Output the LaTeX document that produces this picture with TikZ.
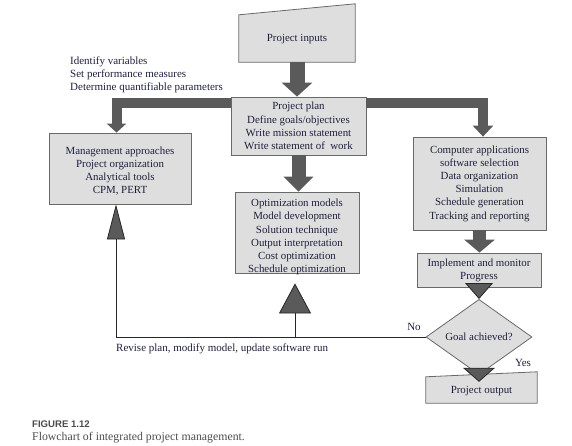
\documentclass[tikz,border=0pt]{standalone}
\usepackage{fontspec}
\setmainfont{Liberation Serif}
\newfontfamily\capsans{Liberation Sans}
\usetikzlibrary{arrows.meta,shapes.geometric,calc}
\definecolor{boxfill}{RGB}{222,222,222}
\definecolor{boxline}{RGB}{105,105,105}
\definecolor{fatgray}{RGB}{90,90,90}
\definecolor{txt}{RGB}{30,32,60}
\definecolor{capgray}{RGB}{75,75,75}
\begin{document}
\begin{tikzpicture}[x=1pt,y=-1pt,
  box/.style={draw=boxline, fill=boxfill, line width=0.8pt, align=center, inner sep=0pt, text=txt, font=\fontsize{10.9}{13.2}\selectfont},
  plainbox/.style={align=center, inner sep=0pt, text=txt, font=\fontsize{10.9}{13.2}\selectfont},
  shapeline/.style={draw=boxline, fill=boxfill, line width=0.8pt},
  fat/.style={draw=fatgray, line join=miter, line cap=butt},
  thinline/.style={draw=black!85, line width=0.8pt},
  lbl/.style={inner sep=0pt, text=txt, font=\fontsize{11}{13}\selectfont}
]
\useasboundingbox (0,0) rectangle (572,446);

% manual-input shapes
\node[plainbox, minimum width=116pt, minimum height=47pt] (inp) at (297,38.5) {};
\draw[shapeline] (inp.south west) -- (inp.south east) -- ([yshift=11pt]inp.north east) -- (inp.north west) -- cycle;
\node[plainbox] (inptxt) at ([yshift=-1pt]inp.center) {Project inputs};

\node[plainbox, minimum width=111pt, minimum height=26pt] (out) at (481.5,390) {};
\draw[shapeline] (out.south west) -- (out.south east) -- ([yshift=5pt]out.north east) -- (out.north west) -- cycle;
\node[plainbox] (outtxt) at ([yshift=-1pt]out.center) {Project output};

% boxes
\node[box, minimum width=135pt, minimum height=58pt] (plan) at (298.5,126) {Project plan\\Define goals/objectives\\Write mission statement\\Write statement of\ \ work};
\node[box, minimum width=142pt, minimum height=71pt] (mgmt) at (120,168.5) {};
\node[plainbox] (mgmttxt) at ([yshift=-2.5pt]mgmt.center) {Management approaches\\Project organization\\Analytical tools\\CPM, PERT};
\node[box, minimum width=133pt, minimum height=93pt] (comp) at (479.5,183.5) {Computer applications\\software selection\\Data organization\\Simulation\\Schedule generation\\Tracking and reporting};
\node[box, minimum width=124pt, minimum height=81pt] (opt) at (297,232.5) {};
\node[plainbox] (opttxt) at ([yshift=-4.5pt]opt.center) {Optimization models\\Model development\\Solution technique\\Output interpretation\\Cost optimization\\Schedule optimization};
\node[box, minimum width=124pt, minimum height=34pt] (impl) at (479,270) {Implement and monitor\\Progress};
\node[box, diamond, minimum width=106pt, minimum height=43pt] (dec) at (479,337) {Goal achieved?};

% fat arrows
\draw[fat, line width=15pt, -{Triangle[length=14pt,width=30pt]}] (inp.south) -- (inp.south |- plan.north);
\draw[fat, line width=14pt, -{Triangle[length=15pt,width=29pt]}] (plan.south) -- (plan.south |- opt.north);
\coordinate (mgtop) at ([xshift=-3.5pt]mgmt.north);
\coordinate (comptop) at ([xshift=3.5pt]comp.north);
\draw[fat, line width=10pt, -{Triangle[length=9pt,width=19pt]}] ([yshift=-6pt]plan.north west) -| (mgtop);
\draw[fat, line width=10pt, -{Triangle[length=11pt,width=20pt]}] ([yshift=-6pt]plan.north east) -| (comptop);
\draw[fat, line width=13pt, -{Triangle[length=13pt,width=30pt]}] (comp.south) -- (comp.south |- impl.north);

% thin connectors with triangles
\draw[thinline, -{Triangle[width=28pt,length=16pt,fill=fatgray]}] (impl.south) -- (dec.north);
\coordinate (outtip) at ([yshift=-5pt]out.north -| dec.south);
\draw[thinline, -{Triangle[width=32pt,length=14pt,fill=fatgray]}] (dec.south) -- (outtip);
\coordinate (mgx) at ([xshift=-4pt]mgmt.south);
\draw[thinline, -{Triangle[width=18pt,length=35pt,fill=fatgray]}] (dec.west) -- (mgx |- dec.west) -- (mgx);
\coordinate (optx) at ([xshift=-2pt,yshift=-10pt]opt.south);
\draw[thinline, -{Triangle[width=32pt,length=30pt,fill=fatgray]}] (optx |- dec.west) -- (optx);

% labels
\node[lbl, anchor=west] (l1) at (70,62) {Identify variables};
\node[lbl, anchor=west] (l2) at (70,75) {Set performance measures};
\node[lbl, anchor=west] (l3) at (70,88) {Determine quantifiable parameters};
\node[lbl] (no) at (414,327) {No};
\node[lbl] (yes) at (523,363) {Yes};
\node[lbl, anchor=west] (rev) at (116,349) {Revise plan, modify model, update software run};

% caption
\node[inner sep=0pt, anchor=west, text=capgray, font=\capsans\bfseries\fontsize{9.6}{11}\selectfont] (fig) at (32,424) {FIGURE 1.12};
\node[inner sep=0pt, anchor=west, text=capgray, font=\fontsize{11.8}{13}\selectfont] (cap) at (32,438) {Flowchart of integrated project management.};
\end{tikzpicture}
\end{document}
